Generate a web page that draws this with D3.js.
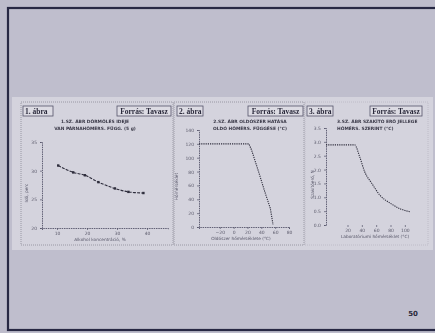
<!DOCTYPE html>
<html><head><meta charset="utf-8">
<script src="https://cdn.jsdelivr.net/npm/d3@7"></script>
<style>
html,body{margin:0;padding:0;background:#bdbccb;}
svg{display:block;}
.blur{filter:blur(0.45px);}
</style></head>
<body>
<svg id="c" width="435" height="333"></svg>
<script>
// ---- data ----
const figLabels = ["1. ábra", "2. ábra", "3. ábra"];
const sourceLabels = ["Forrás: Tavasz", "Forrás: Tavasz", "Forrás: Tavasz"];
const titles1 = ["1.SZ. ÁBR DÖRMÖLÉS IDEJE", "VAN PÁRNAHŐMÉRS. FÜGG. (5 g)"];
const titles2 = ["2.SZ. ÁBR OLDÓSZER HATÁSA", "OLDÓ HŐMÉRS. FÜGGÉSE (°C)"];
const titles3 = ["3.SZ. ÁBR SZAKÍTÓ ERŐ JELLEGE", "HŐMÉRS. SZERINT (°C)"];
const axisTitlesX = ["Alkohol koncentráció, %", "Oldószer hőmérséklete (°C)", "Laboratóriumi hőmérséklet (°C)"];
const axisTitlesY = ["Idő, perc", "Hőmérséklet", "Szakítóerő, N"];

const p1X = [10.4, 15.4, 19.3, 23.8, 29.3, 33.8, 38.8];
const p1Y = [30.9, 29.7, 29.2, 28.0, 26.9, 26.3, 26.1];
const p1XTicks = [10, 20, 30, 40];
const p1YTicks = [20, 25, 30, 35];

const p2X = [-50, 22, 26, 36, 45, 53, 57];
const p2Y = [120, 120, 111, 80, 51, 27, 3];
const p2XTicks = [-20, 0, 20, 40, 60, 80];
const p2YTicks = [0, 20, 40, 60, 80, 100, 120, 140];

const p3X = [-10, 30, 37, 44, 54, 65, 80, 94, 107];
const p3Y = [2.89, 2.89, 2.46, 1.92, 1.50, 1.08, 0.78, 0.58, 0.48];
const p3XTicks = [20, 40, 60, 80, 100];
const p3YTicks = [0, 0.5, 1.0, 1.5, 2.0, 2.5, 3.0, 3.5];

const pageNumber = "50";

// ---- drawing ----
const svg = d3.select("#c");
svg.append("rect").attr("x", 8).attr("y", 8).attr("width", 440).attr("height", 322)
  .attr("fill", "#bfbecd").attr("stroke", "#272843").attr("stroke-width", 2.2);
svg.append("rect").attr("x", 12).attr("y", 97).attr("width", 421).attr("height", 153)
  .attr("fill", "#d4d3dd");

const g = svg.append("g").attr("class", "blur");

const panels = [
  {x0: 21, x1: 173, fx: [23, 53], sx: [117, 171], titles: titles1, tx: 95, anchor: "middle",
   xs: d3.scaleLinear().domain([5, 47]).range([42, 168]),
   ys: d3.scaleLinear().domain([20, 35]).range([228, 142]),
   X: p1X, Y: p1Y, xt: p1XTicks, yt: p1YTicks, xfmt: d3.format("d"), yfmt: d3.format("d"),
   ytx: 28, xtx: 100, xaxisLine: true, markers: true, dash: "3,1.2", curve: d3.curveMonotoneX},
  {x0: 174, x1: 304, fx: [177, 203], sx: [248, 303], titles: titles2, tx: 250, anchor: "middle",
   xs: d3.scaleLinear().domain([-50, 80]).range([199, 289]),
   ys: d3.scaleLinear().domain([0, 140]).range([227, 130]),
   X: p2X, Y: p2Y, xt: p2XTicks, yt: p2YTicks, xfmt: d3.format("d"), yfmt: d3.format("d"),
   ytx: 178, xtx: 241, xaxisLine: true, markers: false, dash: "1.2,1", curve: d3.curveLinear},
  {x0: 305, x1: 428, fx: [307, 333], sx: [370, 422], titles: titles3, tx: 337, anchor: "start",
   xs: d3.scaleLinear().domain([-10, 110]).range([326, 412]),
   ys: d3.scaleLinear().domain([0, 3.5]).range([225, 128]),
   X: p3X, Y: p3Y, xt: p3XTicks, yt: p3YTicks, xfmt: d3.format("d"), yfmt: d3.format(".1f"),
   ytx: 314, xtx: 375, xaxisLine: false, markers: false, dash: "1.2,1", curve: d3.curveMonotoneX}
];

panels.forEach((p, i) => {
  g.append("rect").attr("x", p.x0).attr("y", 102).attr("width", p.x1 - p.x0).attr("height", 143)
    .attr("fill", "none").attr("stroke", i === 2 ? "#b9b8c4" : "#8c8b98")
    .attr("stroke-width", 0.8).attr("stroke-dasharray", "1,1");
  g.append("rect").attr("x", p.fx[0]).attr("y", 106).attr("width", p.fx[1] - p.fx[0]).attr("height", 10)
    .attr("fill", "#dcdbe3").attr("stroke", "#55546a").attr("stroke-width", 0.8);
  g.append("text").attr("x", p.fx[0] + 2).attr("y", 114).text(figLabels[i])
    .attr("font-family", "Liberation Serif").attr("font-size", 7.5).attr("font-weight", "bold").attr("fill", "#2b2a3c");
  g.append("rect").attr("x", p.sx[0]).attr("y", 106).attr("width", p.sx[1] - p.sx[0]).attr("height", 10)
    .attr("fill", "#dcdbe3").attr("stroke", "#55546a").attr("stroke-width", 0.8);
  g.append("text").attr("x", (p.sx[0] + p.sx[1]) / 2).attr("y", 114).attr("text-anchor", "middle")
    .text(sourceLabels[i]).attr("font-family", "Liberation Serif").attr("font-size", 7.5)
    .attr("font-weight", "bold").attr("fill", "#2b2a3c");
  p.titles.forEach((t, k) => {
    g.append("text").attr("x", p.tx).attr("y", 123 + k * 6.5).attr("text-anchor", p.anchor)
      .text(t).attr("font-family", "DejaVu Sans").attr("font-size", 4.4)
      .attr("font-weight", "bold").attr("fill", "#3a3948");
  });

  const [xa, xb] = p.xs.range();
  const [yb, ya] = p.ys.range();
  const yAx = d3.axisLeft(p.ys).tickValues(p.yt).tickFormat(p.yfmt).tickSize(2).tickPadding(3);
  const yg = g.append("g").attr("transform", `translate(${xa},0)`).call(yAx);
  const xAx = d3.axisBottom(p.xs).tickValues(p.xt).tickFormat(p.xfmt).tickSize(2).tickPadding(2);
  const xg = g.append("g").attr("transform", `translate(0,${yb})`).call(xAx);
  [yg, xg].forEach(a => {
    a.selectAll("path").attr("stroke", "#55546a").attr("stroke-width", 0.9).attr("stroke-dasharray", "1.5,0.8");
    a.selectAll("line").attr("stroke", "#55546a").attr("stroke-width", 0.7);
    a.selectAll("text").attr("font-size", 4.5).attr("fill", "#5c5b6c").attr("font-family", "DejaVu Sans");
  });
  if (!p.xaxisLine) xg.select("path").remove();
  g.append("text").attr("transform", `translate(${p.ytx},${(ya + yb) / 2 + 8}) rotate(-90)`)
    .attr("text-anchor", "middle").text(axisTitlesY[i])
    .attr("font-family", "DejaVu Sans").attr("font-size", 4.3).attr("fill", "#555466");
  g.append("text").attr("x", p.xtx).attr("y", yb + 13).attr("text-anchor", "middle").text(axisTitlesX[i])
    .attr("font-family", "DejaVu Sans").attr("font-size", 4.3).attr("fill", "#555466");

  const pts = p.X.map((x, j) => [x, p.Y[j]]);
  const line = d3.line().x(d => p.xs(d[0])).y(d => p.ys(d[1])).curve(p.curve);
  g.append("path").datum(pts).attr("d", line).attr("fill", "none")
    .attr("stroke", "#2e2d3c").attr("stroke-width", 1.1).attr("stroke-dasharray", p.dash);
  if (p.markers) {
    g.selectAll(null).data(pts).enter().append("rect")
      .attr("x", d => p.xs(d[0]) - 1.2).attr("y", d => p.ys(d[1]) - 1.2)
      .attr("width", 2.4).attr("height", 2.4).attr("fill", "#2e2d3c");
  }
});

svg.append("text").attr("x", 413).attr("y", 316).attr("text-anchor", "middle").text(pageNumber)
  .attr("font-family", "DejaVu Sans").attr("font-size", 7).attr("font-weight", "bold").attr("fill", "#2a2a3a");
</script>
</body></html>
